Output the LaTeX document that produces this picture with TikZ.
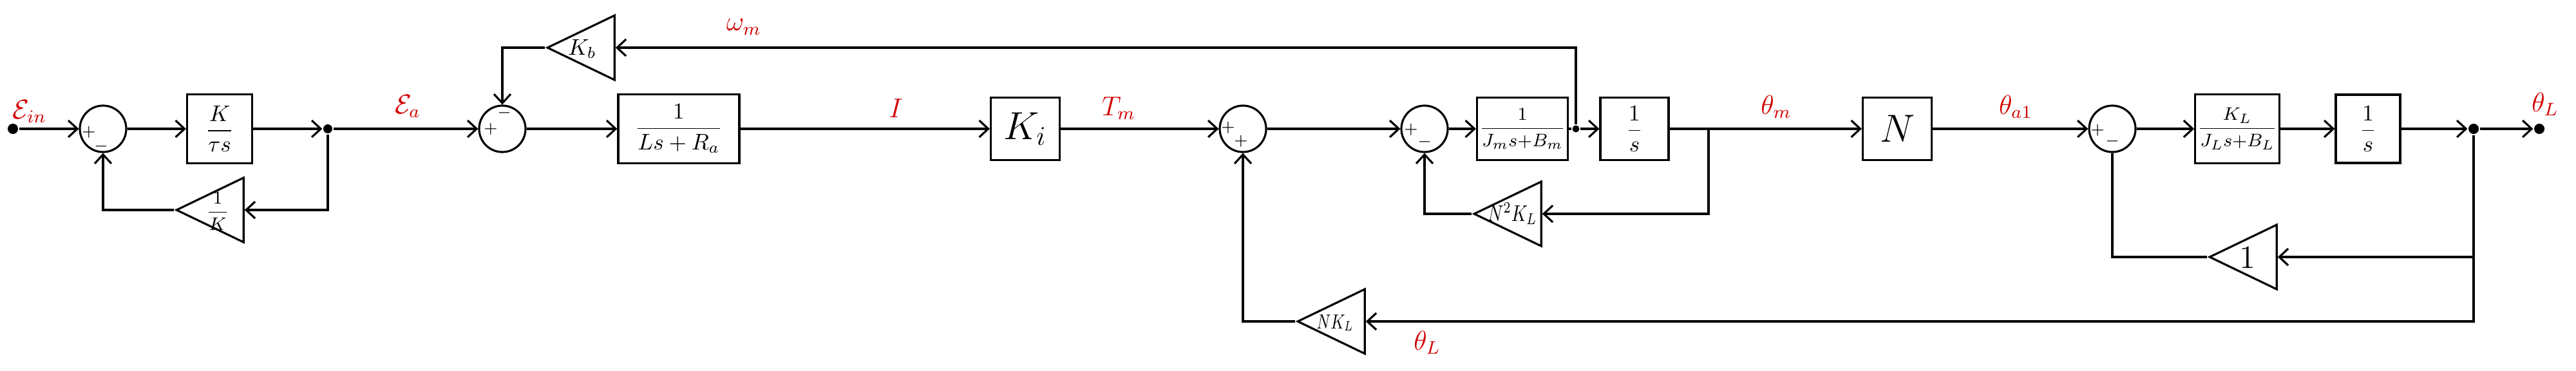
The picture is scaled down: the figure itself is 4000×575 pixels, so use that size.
\documentclass[tikz,border=0pt]{standalone}
\usepackage{tikz}
\usepackage{amsmath}
\usepackage{graphicx}
\usetikzlibrary{arrows.meta,shapes.geometric}
\definecolor{sigRed}{RGB}{210,0,0}

\begin{document}
\begin{tikzpicture}[x=0.01cm, y=-0.01cm, line width=0.9pt,
  >={Straight Barb[length=1.4mm,width=2.6mm]},
  block/.style={draw, minimum width=1.07cm, minimum height=0.97cm, inner sep=1pt, align=center},
  sumnode/.style={draw, circle, minimum size=0.72cm, inner sep=0pt},
  gain/.style={draw, isosceles triangle, shape border rotate=180, isosceles triangle stretches,
               minimum width=1.0cm, minimum height=1.04cm, inner sep=0pt, anchor=apex},
  gaintxt/.style={inner sep=0pt},
  jdot/.style={circle, fill, inner sep=0pt, minimum size=1.5mm},
  sgn/.style={font=\scriptsize, inner sep=0pt},
  sig/.style={text=sigRed, font=\large}
]
  \useasboundingbox (0,0) rectangle (4000,575);

  % forward path
  \node[jdot, minimum size=1.6mm] (in) at (20,200) {};
  \node[sumnode] (sum1) at (160,200) {};
  \node[block, minimum width=1.01cm, minimum height=1.07cm] (intg) at (341,200) {$\dfrac{K}{\tau s}$};
  \node[jdot, minimum size=1.4mm] (j1) at (509,200) {};
  \node[sumnode] (sum2) at (780,200) {};
  \node[block, minimum width=1.88cm, minimum height=1.07cm] (elec) at (1054,200) {$\dfrac{1}{Ls+R_a}$};
  \node[block, font=\LARGE] (Ki) at (1592,200) {$K_i$};
  \node[sumnode] (sum3) at (1930,200) {};
  \node[sumnode] (sum4) at (2212,200) {};
  \node[block, font=\footnotesize] (mech) at (2364,200) {$\dfrac{1}{J_m s{+}B_m}$};
  \node[jdot, minimum size=1.1mm] (j2) at (2447,200) {};
  \node[block, minimum width=1.06cm] (intm) at (2538,200) {$\dfrac{1}{s}$};
  \coordinate (j3) at (2653,200);
  \node[block, font=\LARGE] (gear) at (2946,200) {$N$};
  \node[sumnode] (sum5) at (3280,200) {};
  \node[block, minimum width=1.0cm, minimum height=1.07cm, font=\footnotesize] (load) at (3474,200) {$\dfrac{K_L}{J_L s{+}B_L}$};
  \node[block, minimum width=1.0cm, minimum height=1.06cm] (intl) at (3677,200) {$\dfrac{1}{s}$};
  \node[jdot, minimum size=1.6mm] (j4) at (3841,200) {};
  \node[jdot, minimum size=1.6mm] (out) at (3943,200) {};

  % gains
  \node[gain] (fbK) at (270,326) {};
  \node[gain] (Kb) at (846,74) {};
  \node[gain] (fbN2) at (2285,332) {};
  \node[gain] (fb1) at (3427,399) {};
  \node[gain] (fbNK) at (2011,499) {};
  \node[gaintxt, font=\footnotesize] (fbKtxt) at (338,328) {$\dfrac{1}{K}$};
  \node[gaintxt] (Kbtxt) at (904,76) {$K_b$};
  \node[gaintxt] (fbN2txt) at (2348,332) {\scalebox{0.78}[1]{$N^2K_L$}};
  \node[gaintxt, font=\Large] (fb1txt) at (3490,400) {$1$};
  \node[gaintxt, font=\small] (fbNKtxt) at (2073,501) {\scalebox{0.75}[1]{$NK_L$}};

  % signs
  \node[sgn] at ([shift={(-22,5)}]sum1.center) {$+$};
  \node[sgn] at ([shift={(-3,27)}]sum1.center) {$-$};
  \node[sgn] at ([shift={(-18,0)}]sum2.center) {$+$};
  \node[sgn] at ([shift={(3,-25)}]sum2.center) {$-$};
  \node[sgn] at ([shift={(-23,-2)}]sum3.center) {$+$};
  \node[sgn] at ([shift={(-3,19)}]sum3.center) {$+$};
  \node[sgn] at ([shift={(-21,1)}]sum4.center) {$+$};
  \node[sgn] at ([shift={(0,20)}]sum4.center) {$-$};
  \node[sgn] at ([shift={(-23,2)}]sum5.center) {$+$};
  \node[sgn] at ([shift={(0,19)}]sum5.center) {$-$};

  % signals
  \node[sig] (lEin) at (46,173) {$\mathcal{E}_{in}$};
  \node[sig] (lEa) at (633,165) {$\mathcal{E}_{a}$};
  \node[sig] (lwm) at (1155,42) {$\omega_m$};
  \node[sig] (lI) at (1391,168) {$I$};
  \node[sig] (lTm) at (1737,168) {$T_m$};
  \node[sig] (lthm) at (2758,166) {$\theta_m$};
  \node[sig] (ltha) at (3130,166) {$\theta_{a1}$};
  \node[sig] (lthL) at (3952,162) {$\theta_L$};
  \node[sig] (lthL2) at (2216,532) {$\theta_L$};

  % connectors
  \draw[->] (in) -- (sum1);
  \draw[->] (sum1) -- (intg);
  \draw[->] (intg) -- (j1);
  \draw[->] (j1) -- (sum2);
  \draw[->] (j1) |- (fbK);
  \draw[->] (fbK.apex) -| (sum1);
  \draw[->] (sum2) -- (elec);
  \draw[->] (elec) -- (Ki);
  \draw[->] (Ki) -- (sum3);
  \draw[->] (sum3) -- (sum4);
  \draw[->] (sum4) -- (mech);
  \draw (mech) -- (j2);
  \draw[->] (j2) -- (intm);
  \draw[->] (j2) |- (Kb);
  \draw[->] (Kb.apex) -| (sum2);
  \draw (intm) -- (j3);
  \draw[->] (j3) -- (gear);
  \draw[->] (j3) |- (fbN2);
  \draw[->] (fbN2.apex) -| (sum4);
  \draw[->] (gear) -- (sum5);
  \draw[->] (sum5) -- (load);
  \draw[->] (load) -- (intl);
  \draw[->] (intl) -- (j4);
  \draw[->] (j4) -- (out);
  \draw[->] (j4) |- (fb1);
  \draw[->] (j4) |- (fbNK);
  \draw (fb1.apex) -| (sum5);
  \draw[->] (fbNK.apex) -| (sum3);
\end{tikzpicture}
\end{document}
